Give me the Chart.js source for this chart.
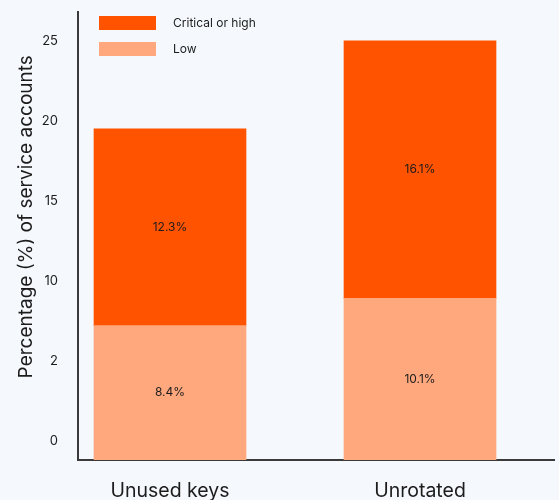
<!DOCTYPE html>
<html>
<head>
<meta charset="utf-8">
<script src="https://cdn.jsdelivr.net/npm/chart.js@4/dist/chart.umd.min.js"></script>
<style>
  html, body { margin: 0; padding: 0; background: #f5f8fc; }
  #wrap { width: 559px; height: 500px; }
</style>
</head>
<body>
<div id="wrap"><canvas id="chart" width="559" height="500"></canvas></div>
<script>
// Service-account findings, split by severity
const categories = ['Unused keys', 'Unrotated'];
const lowValues = [8.4, 10.1];
const criticalValues = [12.3, 16.1];
const seriesNames = ['Low', 'Critical or high'];
const yTickValues = [0, 5, 10, 15, 20, 25];
const yTickLabels = ['0', '2', '10', '15', '20', '25'];
const yTitle = 'Percentage (%) of service accounts';

const COLOR_CRITICAL = '#ff5300';
const COLOR_LOW = '#ffa87e';
const INK = '#1c1c1c';
const FONT = 'Inter, "Liberation Sans", Arial, sans-serif';

// y tick labels and title sit a little above their nominal values
const LABEL_SHIFT = 1.2;

const background = {
  id: 'background',
  beforeDraw(chart) {
    const c = chart.ctx;
    c.save();
    c.fillStyle = '#f5f8fc';
    c.fillRect(0, 0, chart.width, chart.height);
    c.restore();
  }
};

// value labels centred in each stacked segment
const segmentLabels = {
  id: 'segmentLabels',
  afterDatasetsDraw(chart) {
    const c = chart.ctx;
    c.save();
    c.font = '12px ' + FONT;
    c.fillStyle = INK;
    c.textAlign = 'center';
    c.textBaseline = 'middle';
    chart.data.datasets.forEach((ds, di) => {
      const meta = chart.getDatasetMeta(di);
      meta.data.forEach((bar, i) => {
        const p = bar.getProps(['x', 'y', 'base'], true);
        c.fillText(ds.data[i].y + '%', p.x, (p.y + p.base) / 2);
      });
    });
    c.restore();
  }
};

// vertical legend in the top-left of the plot area
const insideLegend = {
  id: 'insideLegend',
  afterDraw(chart) {
    const c = chart.ctx;
    const area = chart.chartArea;
    const items = chart.data.datasets.slice().reverse();
    c.save();
    c.font = '12px ' + FONT;
    c.textBaseline = 'middle';
    c.textAlign = 'left';
    items.forEach((ds, k) => {
      const top = area.top + 4 + k * 26;
      c.fillStyle = ds.backgroundColor;
      c.fillRect(area.left + 21, top, 57, 14);
      c.fillStyle = INK;
      c.fillText(ds.label, area.left + 95, top + 7);
    });
    c.restore();
  }
};

// rotated y-axis title
const yAxisTitle = {
  id: 'yAxisTitle',
  afterDraw(chart) {
    const c = chart.ctx;
    const y = chart.scales.y;
    const shift = y.getPixelForValue(0) - y.getPixelForValue(LABEL_SHIFT);
    c.save();
    c.font = '19px ' + FONT;
    c.fillStyle = INK;
    c.textAlign = 'center';
    c.textBaseline = 'middle';
    c.translate(26, (chart.chartArea.top + chart.chartArea.bottom) / 2 - shift);
    c.rotate(-Math.PI / 2);
    c.fillText(yTitle, 0, 0);
    c.restore();
  }
};

new Chart(document.getElementById('chart'), {
  type: 'bar',
  data: {
    datasets: [
      {
        label: seriesNames[0],
        data: lowValues.map((v, i) => ({ x: i, y: v })),
        backgroundColor: COLOR_LOW
      },
      {
        label: seriesNames[1],
        data: criticalValues.map((v, i) => ({ x: i, y: v })),
        backgroundColor: COLOR_CRITICAL
      }
    ]
  },
  options: {
    responsive: false,
    animation: false,
    layout: { padding: { left: 0, top: 12, right: 5, bottom: 0 } },
    datasets: { bar: { barThickness: 152, borderWidth: 0 } },
    plugins: {
      legend: { display: false },
      tooltip: { enabled: false }
    },
    scales: {
      x: {
        type: 'linear',
        stacked: true,
        offset: false,
        min: -0.368,
        max: 1.536,
        grid: { display: false, offset: false },
        border: { display: true, color: '#3a3a3a', width: 2 },
        afterBuildTicks(scale) {
          scale.ticks = categories.map((c, i) => ({ value: i }));
        },
        ticks: {
          autoSkip: false,
          maxRotation: 0,
          padding: 11,
          color: INK,
          font: { family: FONT, size: 19.5 },
          callback: (v) => categories[Math.round(v)]
        },
        afterFit(scale) {
          scale.height = 40;
          scale.paddingLeft = 0;
          scale.paddingRight = 0;
        }
      },
      y: {
        stacked: true,
        min: 0,
        max: 28,
        grid: { display: false },
        border: { display: true, color: '#3a3a3a', width: 2 },
        afterBuildTicks(scale) {
          scale.ticks = yTickValues.map(v => ({ value: v + LABEL_SHIFT }));
        },
        ticks: {
          autoSkip: false,
          padding: 12,
          color: INK,
          font: { family: FONT, size: 13 },
          callback: (v, i) => yTickLabels[i]
        },
        afterFit(scale) {
          scale.width = 78;
          scale.paddingTop = 0;
          scale.paddingBottom = 0;
        }
      }
    }
  },
  plugins: [background, segmentLabels, insideLegend, yAxisTitle]
});
</script>
</body>
</html>
